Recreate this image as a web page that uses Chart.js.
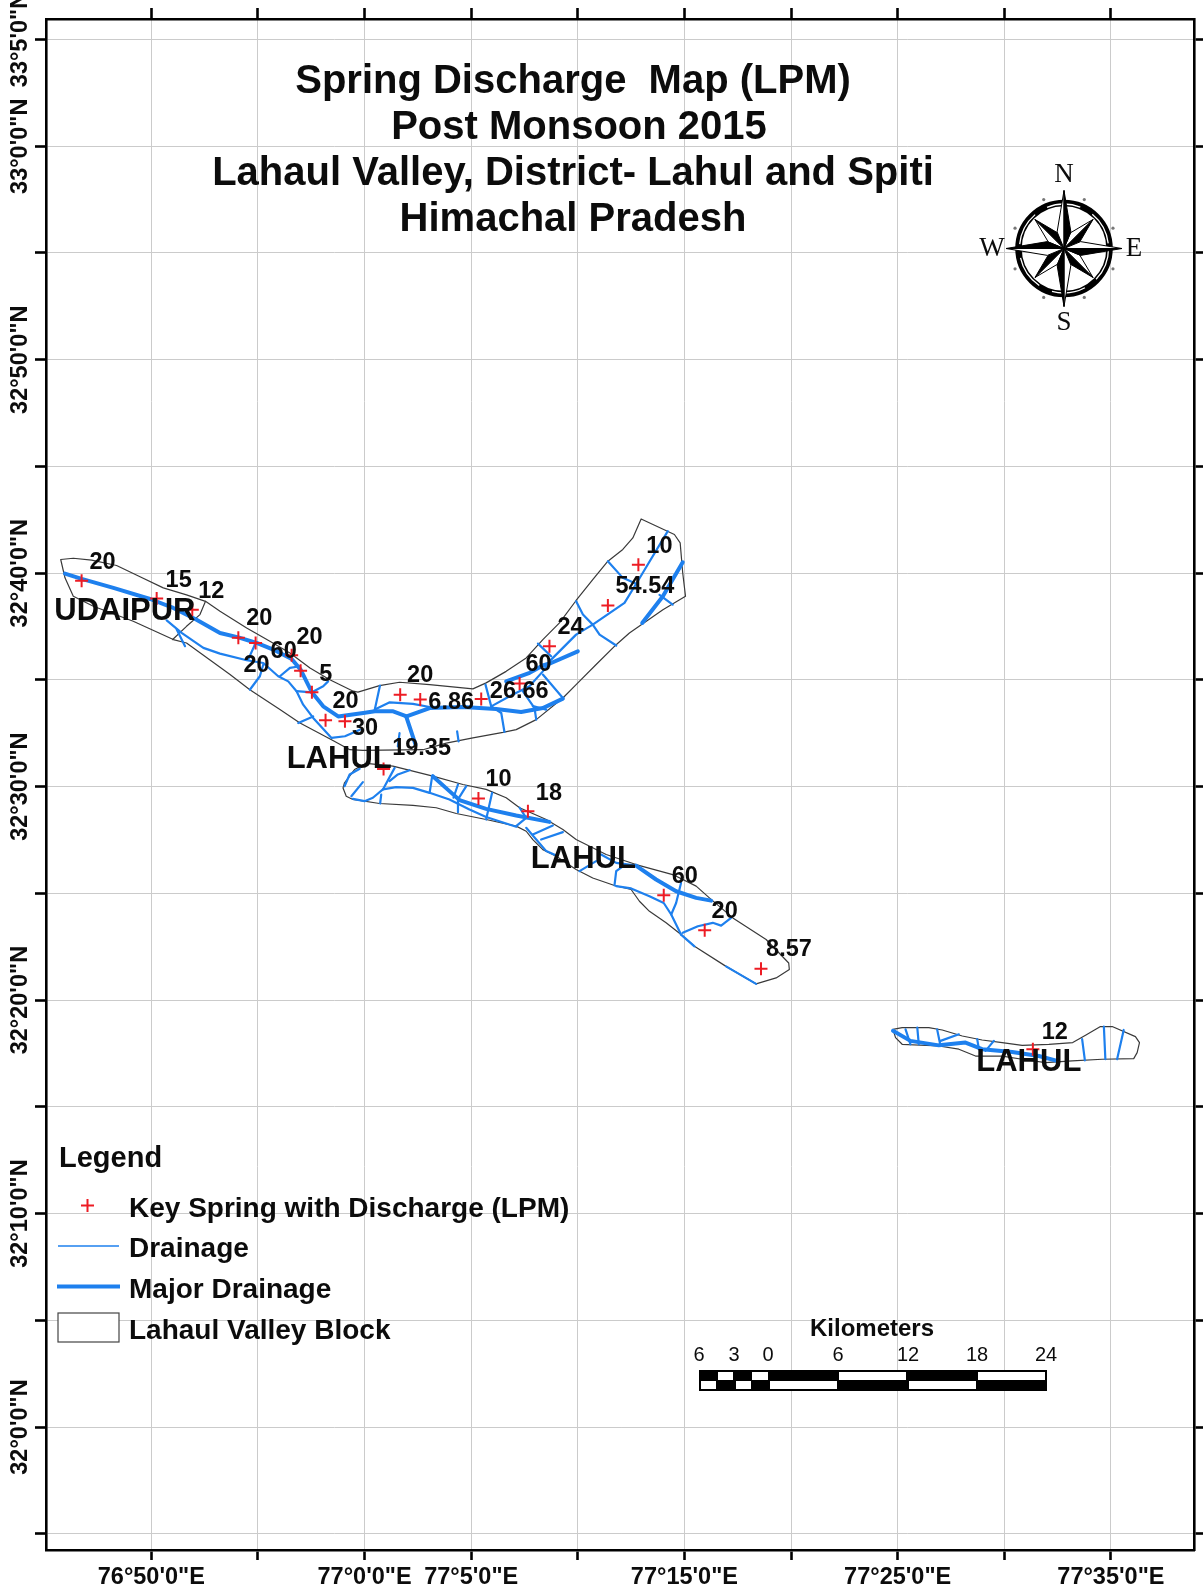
<!DOCTYPE html>
<html>
<head>
<meta charset="utf-8">
<title>Spring Discharge Map</title>
<script src="https://cdn.jsdelivr.net/npm/chart.js@4"></script>
<style>
body { margin: 0; background: #fff; }
canvas { display: block; }
</style>
</head>
<body>
<canvas id="mapChart" width="1203" height="1595"></canvas>
<script>
// x = arc minutes east of 76 deg, y = arc minutes north of 32 deg
const xTicks = [50, 55, 60, 65, 70, 75, 80, 85, 90, 95];
const xTickLabels = ['76°50\'0"E', '', '77°0\'0"E', '77°5\'0"E', '', '77°15\'0"E', '', '77°25\'0"E', '', '77°35\'0"E'];
const yTicks = [65, 60, 55, 50, 45, 40, 35, 30, 25, 20, 15, 10, 5, 0, -5];
const yTickLabels = ['33°5\'0"N', '33°0\'0"N', '', '32°50\'0"N', '', '32°40\'0"N', '', '32°30\'0"N', '', '32°20\'0"N', '', '32°10\'0"N', '', '32°0\'0"N', ''];

const titleLines = ['Spring Discharge  Map (LPM)', 'Post Monsoon 2015', 'Lahaul Valley, District- Lahul and Spiti', 'Himachal Pradesh'];

const springLon = [46.73, 50.25, 51.92, 54.08, 54.89, 56.58, 57.00, 57.53, 58.17, 59.08, 61.67, 62.61, 65.47, 67.27, 68.67, 71.41, 72.84, 60.89, 65.34, 67.66, 74.03, 75.95, 78.59, 91.34];
const springLat = [39.65, 38.81, 38.29, 36.97, 36.73, 36.15, 35.43, 34.42, 33.11, 33.06, 34.31, 34.08, 34.11, 34.83, 36.58, 38.48, 40.40, 30.83, 29.44, 28.85, 24.91, 23.27, 21.47, 17.70];
const springDischarge = ['20', '15', '12', '20', '20', '60', '20', '5', '20', '30', '20', '6.86', '26.66', '60', '24', '54.54', '10', '19.35', '10', '18', '60', '20', '8.57', '12'];

const placeNames = ['UDAIPUR', 'LAHUL', 'LAHUL', 'LAHUL'];
const placeLon = [48.76, 58.81, 70.26, 91.15];
const placeLat = [38.30, 31.37, 26.69, 17.18];

const blockOutlines = [
  [[45.75,40.64],[46.34,40.70],[47.20,40.61],[48.37,40.36],[49.47,39.83],[50.56,39.31],[51.65,38.98],[52.54,38.68],[53.22,38.22],[54.47,37.43],[55.56,36.81],[56.50,36.26],[57.44,35.56],[58.37,35.01],[59.47,34.47],[59.69,34.43],[60.70,34.73],[61.64,34.89],[63.05,34.78],[65.08,34.58],[65.70,34.86],[66.64,35.40],[67.58,36.03],[68.36,36.89],[69.14,37.67],[69.92,38.72],[70.70,39.70],[71.41,40.56],[72.11,41.11],[72.58,41.65],[72.97,42.54],[74.53,41.81],[74.80,41.42],[74.92,40.01],[75.05,38.92],[73.99,38.29],[72.42,37.20],[71.80,36.65],[70.86,35.72],[69.92,34.78],[69.30,34.15],[68.05,33.14],[67.11,32.67],[66.49,32.54],[65.08,32.28],[63.83,32.04],[62.74,31.73],[59.92,31.70],[59.31,31.73],[58.45,32.20],[56.97,32.98],[56.03,33.61],[54.62,34.54],[53.69,35.25],[51.65,36.73],[51.03,36.89],[49.15,37.75],[47.28,38.45],[46.34,38.92],[45.95,39.78],[45.75,40.64]],
  [[59.06,30.18],[58.99,29.94],[59.14,29.55],[59.45,29.40],[60.70,29.21],[62.27,29.12],[63.36,29.01],[64.30,28.74],[65.70,28.46],[67.11,28.15],[67.58,27.91],[67.89,27.52],[68.36,27.05],[68.99,26.74],[69.92,26.12],[70.70,25.72],[71.72,25.37],[72.50,25.18],[72.89,24.63],[73.36,24.16],[74.14,23.62],[74.84,23.07],[75.47,22.52],[76.95,21.58],[78.36,20.76],[79.30,21.04],[79.92,21.43],[79.89,21.74],[78.83,22.84],[77.27,23.85],[76.17,24.79],[75.55,25.34],[74.45,25.88],[72.73,26.35],[71.33,26.82],[69.92,27.52],[69.30,27.99],[68.52,28.46],[67.27,29.01],[66.64,29.48],[65.70,29.87],[64.61,30.10],[63.20,30.49],[61.33,30.96],[60.08,31.09],[59.53,30.80],[59.06,30.18]],
  [[84.78,18.63],[85.21,18.71],[86.46,18.71],[87.09,18.60],[88.03,18.32],[88.96,18.13],[89.90,18.01],[90.84,17.88],[92.09,17.93],[93.21,18.01],[93.81,18.35],[94.51,18.76],[95.06,18.76],[96.15,18.29],[96.34,18.01],[96.23,17.54],[96.07,17.26],[94.59,17.23],[93.18,17.15],[91.93,17.07],[90.84,17.23],[89.90,17.38],[88.65,17.38],[87.87,17.70],[86.93,17.85],[85.21,17.93],[84.90,18.24],[84.78,18.63]],
  [[52.54,38.68],[52.28,38.06],[51.65,37.51],[51.00,36.89]]
];

const majorDrainage = [
  [[45.95,39.98],[46.73,39.73],[48.22,39.31],[49.94,38.79],[51.03,38.37],[52.12,37.82],[53.22,37.20],[54.08,36.99],[54.94,36.73],[55.72,36.42],[56.58,35.98],[57.00,35.48],[57.53,34.42],[58.06,33.76],[58.76,33.29],[59.94,33.45],[60.48,33.53],[61.34,33.53],[61.97,33.29],[63.05,33.68],[64.61,33.73],[66.17,33.64],[67.34,33.50],[68.36,33.68],[69.30,34.12]],
  [[61.95,33.29],[62.39,31.97]],
  [[66.64,34.93],[67.74,35.33],[68.36,35.68],[68.75,35.79],[70.00,36.34]],
  [[73.02,37.67],[73.99,38.92],[74.92,40.51]],
  [[63.20,30.49],[63.98,29.79],[64.45,29.37],[65.70,28.96],[67.11,28.65],[68.67,28.35]],
  [[72.73,26.30],[73.67,25.65],[74.61,25.10],[75.55,24.79],[76.25,24.66]],
  [[84.78,18.56],[85.60,18.09],[86.93,17.88],[88.18,18.01],[88.96,17.70],[90.37,17.57],[91.62,17.38],[92.48,17.15]]
];

const drainage = [
  [[50.72,37.79],[51.42,37.20],[52.44,36.50],[53.22,36.23],[54.47,35.92],[55.25,35.79],[55.95,35.17],[56.42,34.93],[56.81,34.47],[57.12,33.84],[57.59,33.22],[58.45,32.28],[59.08,32.36],[59.78,32.67]],
  [[51.19,37.36],[51.58,36.58]],
  [[54.89,36.73],[54.54,35.95]],
  [[55.25,35.72],[55.09,35.17],[54.62,34.54]],
  [[56.03,35.17],[56.50,35.56],[56.97,35.64]],
  [[56.81,34.47],[57.53,34.42],[58.06,34.70],[58.29,34.93]],
  [[56.89,32.98],[57.59,33.29]],
  [[60.72,34.73],[60.48,33.61]],
  [[60.48,33.61],[61.18,33.95],[62.27,33.88],[63.05,33.73]],
  [[65.67,34.78],[65.94,33.76],[66.41,33.45],[66.56,32.56]],
  [[65.94,33.76],[66.80,34.23],[67.73,34.70],[68.36,35.40],[68.75,35.95],[69.92,37.12],[70.70,37.59],[72.19,38.61],[72.81,39.62],[74.22,41.97]],
  [[68.13,36.70],[68.75,36.11]],
  [[69.92,38.68],[70.24,38.06],[70.70,37.59],[71.02,37.12],[71.80,36.61]],
  [[71.41,40.56],[72.11,39.78],[72.81,39.47]],
  [[73.83,38.98],[74.45,38.53]],
  [[68.36,35.25],[69.30,34.15]],
  [[67.42,34.47],[67.97,33.68],[68.05,33.14]],
  [[67.89,33.77],[68.52,33.61]],
  [[61.64,32.51],[61.56,31.89]],
  [[64.34,32.59],[64.41,32.12]],
  [[59.45,29.43],[60.00,29.32],[60.39,29.48],[60.86,29.87],[61.48,29.98],[62.27,29.94],[63.05,29.71],[63.98,29.40],[64.92,28.93],[65.70,28.58],[67.11,28.12]],
  [[59.06,30.02],[59.30,30.57],[59.77,30.84]],
  [[59.38,29.55],[59.92,30.21]],
  [[60.86,29.87],[61.41,30.88]],
  [[61.17,30.26],[61.56,30.57],[62.11,30.77]],
  [[60.78,29.63],[60.73,29.21]],
  [[63.17,30.49],[63.05,29.71]],
  [[64.38,30.10],[64.17,29.48]],
  [[64.77,30.02],[64.38,29.40],[64.38,28.80]],
  [[65.98,29.71],[65.70,28.46]],
  [[67.27,29.01],[67.58,28.54],[67.11,28.15]],
  [[67.89,27.76],[68.83,28.18]],
  [[68.28,27.52],[69.30,27.87]],
  [[67.58,28.07],[68.05,27.52],[68.52,26.98],[68.99,26.77]],
  [[70.08,26.04],[70.86,26.51]],
  [[71.09,26.82],[71.80,26.43],[72.73,26.30]],
  [[71.72,25.37],[71.80,26.04],[72.11,26.27]],
  [[71.80,25.34],[72.50,25.23],[73.36,24.87],[74.03,24.55],[74.38,24.01],[74.84,23.07]],
  [[74.84,25.49],[74.61,24.55],[74.38,24.01]],
  [[74.92,23.15],[75.63,23.46],[76.33,23.62],[76.72,23.49],[77.19,23.85]],
  [[74.84,23.07],[75.47,22.52]],
  [[76.95,21.58],[78.36,20.76]],
  [[85.37,18.63],[85.60,17.93]],
  [[85.92,18.71],[85.99,17.93]],
  [[86.85,18.63],[87.01,17.85]],
  [[87.01,18.09],[87.87,18.40]],
  [[88.73,18.17],[88.81,17.70]],
  [[89.51,18.09],[89.12,17.62]],
  [[93.65,18.17],[93.78,17.18]],
  [[94.67,18.76],[94.74,17.23]],
  [[95.60,18.60],[95.29,17.23]]
];

const scaleBarLabels = ['6', '3', '0', '6', '12', '18', '24'];
const legendLabels = ['Key Spring with Discharge (LPM)', 'Drainage', 'Major Drainage', 'Lahaul Valley Block'];

// where each discharge number sits relative to its spring, in screen px
const labelDx = [21, 22, 19, 21, 1, -8, 9, 14, 20, 20, 20, 31, 38, 19, 21, 37, 21, 38, 20, 21, 21, 20, 28, 22];
const labelDy = [-18, -18, -18, -19, 23, -4, -33, -18, -19, 7, -19, 3, -7, -19, -19, -19, -18, -20, -19, -18, -19, -19, -19, -17];

const BLUE = '#1e80ee';
const RED = '#ed1c24';
const INK = '#0c0c0c';
const GRID = '#cbcbcb';

function lineSet(points, color, width, order) {
  return {
    data: points.map(p => ({ x: p[0], y: p[1] })),
    showLine: true,
    borderColor: color,
    borderWidth: width,
    backgroundColor: color,
    pointRadius: 0,
    borderJoinStyle: 'round',
    borderCapStyle: 'round',
    order: order
  };
}

function text(ctx, str, x, y, font, align, rotate) {
  ctx.save();
  ctx.translate(x, y);
  if (rotate) ctx.rotate(rotate);
  ctx.font = font;
  ctx.fillStyle = INK;
  ctx.textAlign = align || 'center';
  ctx.textBaseline = 'middle';
  ctx.fillText(str, 0, 0);
  ctx.restore();
}

function drawCompass(ctx, cx, cy) {
  ctx.save();
  ctx.fillStyle = '#777';
  for (let i = 0; i < 8; i++) {
    const a = Math.PI / 8 + i * Math.PI / 4;
    ctx.beginPath();
    ctx.arc(cx + Math.cos(a) * 53, cy + Math.sin(a) * 53, 1.6, 0, Math.PI * 2);
    ctx.fill();
  }
  ctx.strokeStyle = '#000';
  ctx.lineWidth = 6.5;
  ctx.beginPath();
  ctx.arc(cx, cy, 45.5, 0, Math.PI * 2);
  ctx.stroke();
  // thin broken white ring inside the black one
  ctx.strokeStyle = '#fff';
  ctx.lineWidth = 1.3;
  ctx.setLineDash([34, 14]);
  ctx.beginPath();
  ctx.arc(cx, cy, 44.5, 0, Math.PI * 2);
  ctx.stroke();
  ctx.setLineDash([]);

  // diagonal points first, the long ones lie over them
  [1, 0].forEach(odd => {
    for (let i = 0; i < 4; i++) {
      const a = -Math.PI / 2 + i * Math.PI / 2 + odd * Math.PI / 4;
      const tip = odd ? 41 : 58;
      const side = odd ? 17 : 18;
      const sx = s => cx + Math.cos(a + s * Math.PI / 8) * side;
      const sy = s => cy + Math.sin(a + s * Math.PI / 8) * side;
      const tx = cx + Math.cos(a) * tip;
      const ty = cy + Math.sin(a) * tip;
      ctx.lineWidth = 1;
      ctx.strokeStyle = '#000';
      ctx.fillStyle = '#fff';
      ctx.beginPath();
      ctx.moveTo(cx, cy); ctx.lineTo(sx(-1), sy(-1)); ctx.lineTo(tx, ty); ctx.closePath();
      ctx.fill(); ctx.stroke();
      ctx.fillStyle = '#000';
      ctx.beginPath();
      ctx.moveTo(cx, cy); ctx.lineTo(sx(1), sy(1)); ctx.lineTo(tx, ty); ctx.closePath();
      ctx.fill(); ctx.stroke();
    }
  });
  ctx.restore();
  const serif = '27px "Liberation Serif"';
  text(ctx, 'N', cx, cy - 74, serif);
  text(ctx, 'S', cx, cy + 74, serif);
  text(ctx, 'W', cx - 72, cy, serif);
  text(ctx, 'E', cx + 70, cy, serif);
}

function drawScaleBar(ctx) {
  const stops = [699, 734, 768, 838, 908, 977, 1046];
  text(ctx, 'Kilometers', 872, 1329, 'bold 24px "Liberation Sans"');
  scaleBarLabels.forEach((s, i) => text(ctx, s, stops[i], 1355, '20px "Liberation Sans"'));
  ctx.fillStyle = '#000';
  ctx.fillRect(699, 1370, 348, 21);
  ctx.fillStyle = '#fff';
  [[718, 15], [752, 16], [839, 67], [978, 67]].forEach(c => ctx.fillRect(c[0], 1372, c[1], 8));
  [[701, 15], [736, 15], [770, 67], [909, 67]].forEach(c => ctx.fillRect(c[0], 1381, c[1], 8));
}

function drawLegend(ctx) {
  const f = 'bold 28px "Liberation Sans"';
  text(ctx, 'Legend', 59, 1159, 'bold 29px "Liberation Sans"', 'left');
  const rows = [1209, 1249, 1290, 1331];
  legendLabels.forEach((s, i) => text(ctx, s, 129, rows[i], f, 'left'));
  ctx.save();
  ctx.strokeStyle = RED;
  ctx.lineWidth = 2;
  ctx.beginPath();
  ctx.moveTo(81, 1205.5); ctx.lineTo(94, 1205.5);
  ctx.moveTo(87.5, 1199); ctx.lineTo(87.5, 1212);
  ctx.stroke();
  ctx.strokeStyle = BLUE;
  ctx.lineWidth = 1.7;
  ctx.beginPath(); ctx.moveTo(58, 1246); ctx.lineTo(119, 1246); ctx.stroke();
  ctx.lineWidth = 3.8;
  ctx.beginPath(); ctx.moveTo(57, 1286.5); ctx.lineTo(120, 1286.5); ctx.stroke();
  ctx.strokeStyle = '#444';
  ctx.lineWidth = 1.2;
  ctx.fillStyle = '#fff';
  ctx.fillRect(58, 1313, 61, 29);
  ctx.strokeRect(58, 1313, 61, 29);
  ctx.restore();
}

const whiteBackground = {
  id: 'whiteBackground',
  beforeDraw(chart) {
    chart.ctx.save();
    chart.ctx.fillStyle = '#fff';
    chart.ctx.fillRect(0, 0, chart.width, chart.height);
    chart.ctx.restore();
  }
};

// second title line sits a little right of the others in the original
const titleCentres = [573, 579, 573, 573];

const mapText = {
  id: 'mapText',
  afterDraw(chart) {
    const ctx = chart.ctx;
    const sx = chart.scales.x;
    const sy = chart.scales.y;
    titleLines.forEach((s, i) => text(ctx, s, titleCentres[i], 82 + i * 46, 'bold 40px "Liberation Sans"'));
    yTicks.forEach((v, i) => {
      if (yTickLabels[i]) text(ctx, yTickLabels[i], 21, sy.getPixelForValue(v), 'bold 23.5px "Liberation Sans"', 'center', -Math.PI / 2);
    });
    placeNames.forEach((s, i) => text(ctx, s, sx.getPixelForValue(placeLon[i]), sy.getPixelForValue(placeLat[i]) + 2, 'bold 31px "Liberation Sans"'));
    springDischarge.forEach((s, i) => {
      text(ctx, s, sx.getPixelForValue(springLon[i]) + labelDx[i], sy.getPixelForValue(springLat[i]) + labelDy[i], 'bold 23.5px "Liberation Sans"');
    });
    drawCompass(ctx, 1064, 248.5);
    drawScaleBar(ctx);
    drawLegend(ctx);
  }
};

const datasets = [{
  data: springLon.map((x, i) => ({ x: x, y: springLat[i] })),
  pointStyle: 'cross',
  pointRadius: 6.5,
  pointBorderColor: RED,
  pointBorderWidth: 2,
  showLine: false,
  order: 0
}];
majorDrainage.forEach(l => datasets.push(lineSet(l, BLUE, 4, 1)));
drainage.forEach(l => datasets.push(lineSet(l, BLUE, 2.2, 2)));
blockOutlines.forEach(l => datasets.push(lineSet(l, '#3a3a3a', 1.2, 3)));

const frame = { color: '#000', width: 2.6 };

new Chart(document.getElementById('mapChart'), {
  type: 'scatter',
  data: { datasets: datasets },
  plugins: [whiteBackground, mapText],
  options: {
    responsive: false,
    animation: false,
    events: [],
    layout: { padding: 0 },
    plugins: { legend: { display: false }, tooltip: { enabled: false } },
    scales: {
      x: {
        type: 'linear', position: 'bottom', min: 45.06, max: 98.92,
        afterBuildTicks: s => { s.ticks = xTicks.map(v => ({ value: v })); },
        afterFit: s => { s.height = 45; },
        border: frame,
        grid: { color: GRID, lineWidth: 1, tickColor: '#000', tickWidth: 2.6, tickLength: 10 },
        ticks: {
          autoSkip: false, maxRotation: 0, minRotation: 0, padding: 3, color: INK,
          font: { family: 'Liberation Sans', size: 23.5, weight: 'bold' },
          callback: v => xTickLabels[xTicks.indexOf(v)]
        }
      },
      xTop: {
        type: 'linear', position: 'top', min: 45.06, max: 98.92,
        afterBuildTicks: s => { s.ticks = xTicks.map(v => ({ value: v })); },
        afterFit: s => { s.height = 19; },
        border: frame,
        grid: { drawOnChartArea: false, tickColor: '#000', tickWidth: 2.6, tickLength: 11 },
        ticks: { display: false }
      },
      y: {
        type: 'linear', position: 'left', min: -5.76, max: 65.96,
        afterBuildTicks: s => { s.ticks = yTicks.map(v => ({ value: v })); },
        afterFit: s => { s.width = 46; },
        border: frame,
        grid: { color: GRID, lineWidth: 1, tickColor: '#000', tickWidth: 2.6, tickLength: 11 },
        ticks: { display: false }
      },
      yRight: {
        type: 'linear', position: 'right', min: -5.76, max: 65.96,
        afterBuildTicks: s => { s.ticks = yTicks.map(v => ({ value: v })); },
        afterFit: s => { s.width = 7; },
        border: frame,
        grid: { drawOnChartArea: false, tickColor: '#000', tickWidth: 2.6, tickLength: 11 },
        ticks: { display: false }
      }
    }
  }
});
</script>
</body>
</html>
